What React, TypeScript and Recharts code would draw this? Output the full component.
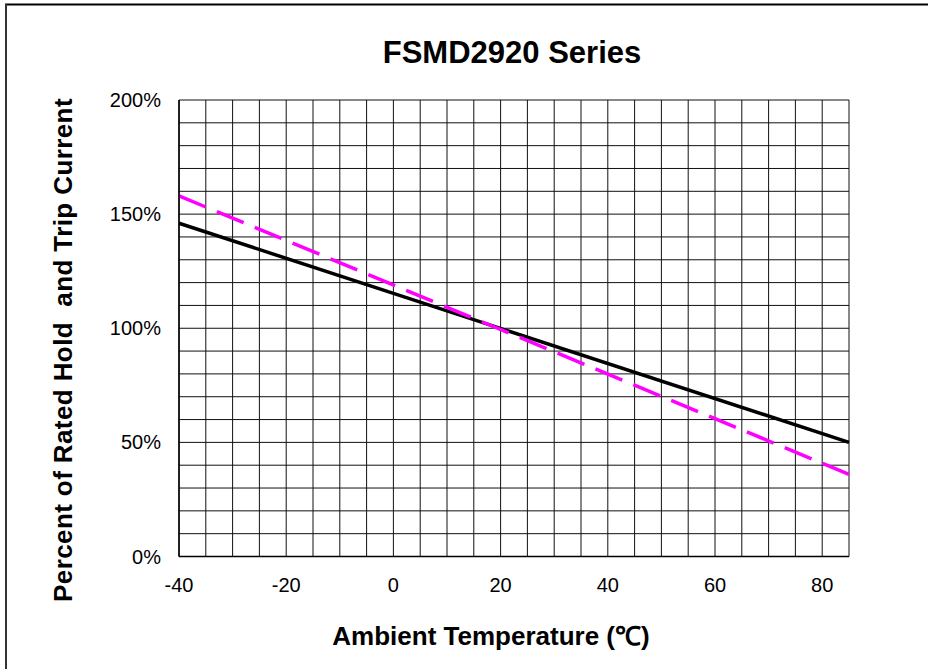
import React from "react";
import { LineChart, Line, CartesianGrid, XAxis, YAxis, Label } from "recharts";

// values
const temperatures = [-40, 85];
const holdCurrent = [146, 50];
const tripCurrent = [158, 36];

const xGridTicks = [-40, -35, -30, -25, -20, -15, -10, -5, 0, 5, 10, 15, 20, 25, 30, 35, 40, 45, 50, 55, 60, 65, 70, 75, 80, 85];
const xLabelTicks = [-40, -20, 0, 20, 40, 60, 80];
const yGridTicks = [0, 10, 20, 30, 40, 50, 60, 70, 80, 90, 100, 110, 120, 130, 140, 150, 160, 170, 180, 190, 200];
const yLabelTicks = [0, 50, 100, 150, 200];

const data = temperatures.map((t, i) => ({
    temp: t,
    hold: holdCurrent[i],
    trip: tripCurrent[i]
}));

const FONT = '"Liberation Sans", Arial, Helvetica, sans-serif';

const App = () => {
    return (
        <div style={{ position: "absolute", left: 0, top: 0, width: 928, height: 669, background: "#fff" }}>
            <LineChart
                width={928}
                height={669}
                data={data}
                margin={{ top: 100, right: 79, bottom: 0, left: 0 }}
            >
                <CartesianGrid stroke="#111" strokeWidth={1} />
                <XAxis
                    dataKey="temp"
                    type="number"
                    domain={[-40, 85]}
                    ticks={xGridTicks}
                    interval={0}
                    tickFormatter={(v: number) => (xLabelTicks.includes(v) ? String(v) : "")}
                    tick={{ fill: "#000", fontSize: 20, fontFamily: FONT }}
                    tickLine={false}
                    tickSize={0}
                    tickMargin={21}
                    axisLine={{ stroke: "#000", strokeWidth: 1.5 }}
                    height={112.5}
                >
                    <Label
                        content={() => (
                            <text
                                x={491}
                                y={645}
                                textAnchor="middle"
                                fontFamily={FONT}
                                fontSize={26}
                                fontWeight="bold"
                                fill="#000"
                            >
                                Ambient Temperature (℃)
                            </text>
                        )}
                    />
                </XAxis>
                <YAxis
                    type="number"
                    domain={[0, 200]}
                    ticks={yGridTicks}
                    interval={0}
                    tickFormatter={(v: number) => (yLabelTicks.includes(v) ? `${v}%` : "")}
                    tick={{ fill: "#000", fontSize: 20, fontFamily: FONT }}
                    tickLine={false}
                    tickSize={0}
                    tickMargin={18}
                    axisLine={{ stroke: "#000", strokeWidth: 1.5 }}
                    width={179}
                >
                    <Label
                        content={() => (
                            <text
                                x={72}
                                y={350}
                                transform="rotate(-90 72 350)"
                                textAnchor="middle"
                                fontFamily={FONT}
                                fontSize={26}
                                fontWeight="bold"
                                letterSpacing={0.4}
                                fill="#000"
                                style={{ whiteSpace: "pre" }}
                            >
                                {"Percent of Rated Hold  and Trip Current"}
                            </text>
                        )}
                    />
                </YAxis>
                <Line
                    type="linear"
                    dataKey="hold"
                    stroke="#000"
                    strokeWidth={3.5}
                    dot={false}
                    isAnimationActive={false}
                />
                <Line
                    type="linear"
                    dataKey="trip"
                    stroke="#ff00ff"
                    strokeWidth={3.5}
                    strokeDasharray="29 12"
                    dot={false}
                    isAnimationActive={false}
                />
            </LineChart>
            {/* title and the outer frame (top + left edges only) */}
            <svg
                width={928}
                height={669}
                style={{ position: "absolute", left: 0, top: 0, pointerEvents: "none" }}
            >
                <line x1={5} y1={4.5} x2={928} y2={4.5} stroke="#000" strokeWidth={2} />
                <line x1={6} y1={4} x2={6} y2={669} stroke="#333" strokeWidth={2} />
                <text
                    x={512}
                    y={63}
                    textAnchor="middle"
                    fontFamily={FONT}
                    fontSize={31}
                    fontWeight="bold"
                    fill="#000"
                >
                    FSMD2920 Series
                </text>
            </svg>
        </div>
    );
};

export default App;
